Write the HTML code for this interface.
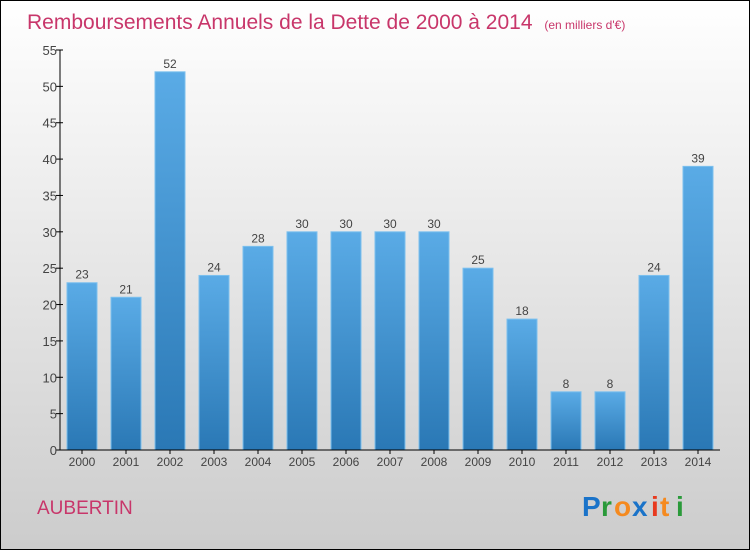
<!DOCTYPE html>
<html><head><meta charset="utf-8"><style>
html,body{margin:0;padding:0}
body{width:750px;height:550px;overflow:hidden;font-family:"Liberation Sans",sans-serif}
</style></head><body>
<svg id="chart" width="750" height="550" xmlns="http://www.w3.org/2000/svg">
<defs>
<linearGradient id="bg" x1="0" y1="0" x2="0" y2="1"><stop offset="0" stop-color="#ffffff"/><stop offset="1" stop-color="#cccccc"/></linearGradient>
<linearGradient id="bar" x1="0" y1="0" x2="0" y2="1"><stop offset="0" stop-color="#5aabe6"/><stop offset="1" stop-color="#2a78b5"/></linearGradient>
</defs>
<rect x="0.5" y="0.5" width="749" height="549" fill="url(#bg)" stroke="#000"/>
<text x="27" y="29" font-size="21" fill="#c8366a">Remboursements Annuels de la Dette de 2000 à 2014 <tspan font-size="12" dx="6">(en milliers d'€)</tspan></text>
<g id="plot"></g>
<text x="37" y="514" font-size="19" fill="#c8366a">AUBERTIN</text>
<g font-size="28" font-weight="bold" font-family="'Liberation Sans',sans-serif">
<text x="582" y="516" fill="#1a73c9">P</text><text x="601" y="516" fill="#2a9a3a">r</text><text x="614" y="516" fill="#f58a1f">o</text><text x="632" y="516" fill="#1a73c9">x</text><text x="651" y="516" fill="#e83a1f">i</text><text x="660" y="516" fill="#f58a1f">t</text><text x="676" y="516" fill="#2a9a3a">i</text>
</g>
</svg>
<script>
const years=["2000","2001","2002","2003","2004","2005","2006","2007","2008","2009","2010","2011","2012","2013","2014"];
const values=[23,21,52,24,28,30,30,30,30,25,18,8,8,24,39];
const yTicks=[0,5,10,15,20,25,30,35,40,45,50,55];
const NS="http://www.w3.org/2000/svg";
const g=document.getElementById('plot');
const y0=450,yTop=50,yMax=55,x0=60;
const yScale=v=>y0-v/yMax*(y0-yTop);
const xCenter=i=>82+i*44;
function el(t,a){const e=document.createElementNS(NS,t);for(const k in a)e.setAttribute(k,a[k]);g.appendChild(e);return e;}
yTicks.forEach(t=>{
  const y=yScale(t);
  const tk=el('line',{x1:x0-4,x2:x0+3,y1:y,y2:y,stroke:'#000'});
  
  
  const tx=el('text',{x:x0-3,y:y+5,'text-anchor':'end','font-size':13,fill:'#444'});
  tx.textContent=t;
  
  
});
values.forEach((v,i)=>{
  const c=xCenter(i),y=yScale(v);
  const r=el('rect',{x:c-15,y:y,width:30,height:y0-y,fill:'url(#bar)',stroke:'#7cc0ee','stroke-width':1});
  
  
  const lb=el('text',{x:c,y:y-4,'text-anchor':'middle','font-size':12,fill:'#444'});
  lb.textContent=v;
  
  
  const tk=el('line',{x1:c,x2:c,y1:y0,y2:y0+4,stroke:'#000'});
  
  
  const xl=el('text',{x:c,y:y0+16,'text-anchor':'middle','font-size':12,fill:'#444'});
  xl.textContent=years[i];
  
  
});
const ya=el('line',{x1:x0,x2:x0,y1:yTop,y2:y0,stroke:'#000'});


const xa=el('line',{x1:x0,x2:720,y1:y0,y2:y0,stroke:'#000'});


</script>
</body></html>
